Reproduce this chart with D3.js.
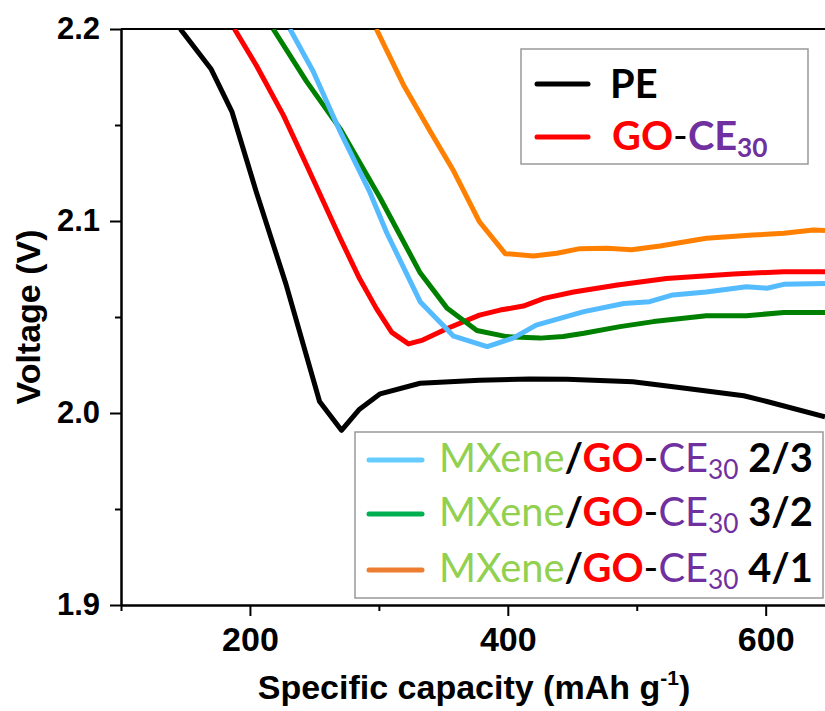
<!DOCTYPE html>
<html>
<head>
<meta charset="utf-8">
<script src="https://cdn.jsdelivr.net/npm/d3@7"></script>
<style>
  body { margin: 0; background: #fff; }
  svg { display: block; }
  .axis text { font-family: "Liberation Sans", Arial, sans-serif; font-weight: bold; fill: #000; }
  .axis path, .axis line { stroke: #000; stroke-width: 2; }
</style>
</head>
<body>
<svg width="825" height="711"></svg>
<script>
/* ---------------- data ---------------- */
// [capacity mAh/g, voltage V]
var pe = [[146,2.200],[170,2.179],[186,2.157],[205,2.115],[228,2.067],[254,2.006],[271,1.991],
  [285,2.002],[301,2.010],[332,2.0155],[378,2.017],[417,2.0177],[446,2.0176],[497,2.0163],
  [536,2.013],[583,2.009],[601,2.006],[646,1.998]];
var goCE = [[188,2.200],[205,2.181],[226,2.155],[244,2.129],[270,2.091],[285,2.070],[298,2.0545],
  [310,2.042],[323,2.036],[334,2.038],[353,2.044],[378,2.051],[394,2.0536],[412,2.0557],
  [428,2.0597],[451,2.063],[485,2.0667],[523,2.070],[575,2.0724],[614,2.0736],[646,2.0736]];
var mx23 = [[231,2.200],[249,2.178],[270,2.1465],[293,2.115],[306,2.094],[332,2.058],[358,2.040],
  [384,2.0346],[404,2.039],[422,2.0458],[459,2.0528],[490,2.057],[510,2.058],[528,2.0615],
  [554,2.063],[585,2.0658],[601,2.065],[614,2.067],[646,2.0675]];
var mx32 = [[218,2.200],[244,2.1726],[270,2.148],[301,2.112],[332,2.073],[353,2.0545],[376,2.043],
  [399,2.0398],[425,2.039],[443,2.0398],[459,2.0415],[487,2.045],[513,2.0476],[554,2.0507],
  [585,2.0507],[614,2.0523],[646,2.0523]];
var mx41 = [[298,2.200],[319,2.171],[340,2.1465],[358,2.126],[378,2.0996],[398,2.083],[420,2.0818],
  [438,2.0832],[456,2.0856],[477,2.0858],[496,2.085],[518,2.087],[554,2.091],[590,2.0927],
  [614,2.0936],[637,2.0953],[646,2.095]];

var xTicks = [200, 400, 600];
var xMinor = [100, 300, 500];
var yTicks = [1.9, 2.0, 2.1, 2.2];
var yMinor = [1.95, 2.05, 2.15];
var ratios = ['2/3', '3/2', '4/1'];

/* ---------------- setup ---------------- */
var svg = d3.select('svg');
var plot = { left: 121, right: 825, top: 29, bottom: 605 };

var xScale = d3.scaleLinear().domain([100, 646]).range([plot.left, plot.right]);
var yScale = d3.scaleLinear().domain([1.9, 2.2]).range([plot.bottom, plot.top]);

svg.append('clipPath').attr('id', 'clip')
  .append('rect')
  .attr('x', plot.left).attr('y', plot.top)
  .attr('width', plot.right - plot.left).attr('height', plot.bottom - plot.top);

// minor ticks first (no labels)
svg.append('g').attr('class', 'axis')
  .attr('transform', 'translate(0,' + plot.bottom + ')')
  .call(d3.axisBottom(xScale).tickValues(xMinor).tickSize(6).tickSizeOuter(0).tickFormat(''));
svg.append('g').attr('class', 'axis')
  .attr('transform', 'translate(' + plot.left + ',0)')
  .call(d3.axisLeft(yScale).tickValues(yMinor).tickSize(6).tickSizeOuter(0).tickFormat(''));

// major ticks
var gx = svg.append('g').attr('class', 'axis')
  .attr('transform', 'translate(0,' + plot.bottom + ')')
  .call(d3.axisBottom(xScale).tickValues(xTicks).tickSize(11).tickPadding(11).tickSizeOuter(0));
gx.selectAll('text').style('font-size', '34px');

var gy = svg.append('g').attr('class', 'axis')
  .attr('transform', 'translate(' + plot.left + ',0)')
  .call(d3.axisLeft(yScale).tickValues(yTicks).tickSize(11).tickPadding(10).tickSizeOuter(0)
    .tickFormat(d3.format('.1f')));
gy.selectAll('text').style('font-size', '31px');

// top frame line
svg.append('line')
  .attr('x1', plot.left).attr('x2', plot.right)
  .attr('y1', plot.top).attr('y2', plot.top)
  .attr('stroke', '#000').attr('stroke-width', 2);

// axis titles
svg.append('text')
  .attr('transform', 'translate(40,317) rotate(-90)')
  .attr('text-anchor', 'middle')
  .style('font-family', '"Liberation Sans", Arial, sans-serif')
  .style('font-weight', 'bold').style('font-size', '34px')
  .text('Voltage (V)');

var xt = svg.append('text')
  .attr('x', 474).attr('y', 699)
  .attr('text-anchor', 'middle')
  .style('font-family', '"Liberation Sans", Arial, sans-serif')
  .style('font-weight', 'bold').style('font-size', '34px');
xt.append('tspan').text('Specific capacity (mAh g');
xt.append('tspan').attr('dy', -14).style('font-size', '21px').text('-1');
xt.append('tspan').attr('dy', 14).text(')');

/* ---------------- curves ---------------- */
var line = d3.line()
  .x(function (d) { return xScale(d[0]); })
  .y(function (d) { return yScale(d[1]); });

var series = [
  { data: pe, color: '#000000' },
  { data: goCE, color: '#ff0000' },
  { data: mx41, color: '#ff8000' },
  { data: mx32, color: '#008000' },
  { data: mx23, color: '#55bbff' }
];

svg.append('g').attr('clip-path', 'url(#clip)')
  .selectAll('path')
  .data(series)
  .enter().append('path')
  .attr('d', function (d) { return line(d.data); })
  .attr('fill', 'none')
  .attr('stroke', function (d) { return d.color; })
  .attr('stroke-width', 5)
  .attr('stroke-linejoin', 'round');

/* ---------------- legends ---------------- */
var legFont = 'Lato, "Open Sans", sans-serif';

function addLabel(g, x, y, parts, size) {
  var t = g.append('text').attr('x', x).attr('y', y)
    .style('font-family', legFont).style('font-size', size + 'px');
  parts.forEach(function (p) {
    var s = t.append('tspan').text(p.t).style('fill', p.c)
      .style('font-weight', p.b ? 'bold' : 'normal');
    if (p.sub) {
      s.attr('dy', size * 0.17).style('font-size', (size * 0.66) + 'px');
    } else if (p.after) {
      s.attr('dy', -size * 0.17);
    }
  });
  return t;
}

function goParts(bold) {
  return [
    { t: 'GO', c: '#ff0000', b: true },
    { t: '-', c: '#000000', b: false },
    { t: 'CE', c: '#7030a0', b: bold },
    { t: '30', c: '#7030a0', b: bold, sub: true }
  ];
}

function mxParts(r) {
  return [{ t: 'MXene', c: '#92d050', b: false }, { t: '/', c: '#000000', b: true }]
    .concat(goParts(false))
    .concat([{ t: ' ' + r, c: '#000000', b: true, after: true }]);
}

// upper legend
var leg1 = svg.append('g');
leg1.append('rect')
  .attr('x', 521).attr('y', 49).attr('width', 287).attr('height', 115)
  .attr('fill', '#fff').attr('stroke', '#999').attr('stroke-width', 1.5);
[[84, '#000000'], [137, '#ff0000']].forEach(function (r) {
  leg1.append('line').attr('x1', 537).attr('x2', 588).attr('y1', r[0]).attr('y2', r[0])
    .attr('stroke', r[1]).attr('stroke-width', 5).attr('stroke-linecap', 'round');
});

// lower legend
var leg2 = svg.append('g');
leg2.append('rect')
  .attr('x', 355).attr('y', 432).attr('width', 468).attr('height', 166)
  .attr('fill', '#fff').attr('stroke', '#999').attr('stroke-width', 1.5);
var legColors = ['#66ccff', '#00b050', '#ed7d31'];
var rowY = [460, 514, 570];

// fit the font width to the picture
var probe = addLabel(leg2, 439, 0, mxParts(ratios[0]), 40);
var fitted = 40 * 374 / probe.node().getComputedTextLength();
probe.remove();

ratios.forEach(function (r, i) {
  leg2.append('line').attr('x1', 369).attr('x2', 422).attr('y1', rowY[i]).attr('y2', rowY[i])
    .attr('stroke', legColors[i]).attr('stroke-width', 5).attr('stroke-linecap', 'round');
  addLabel(leg2, 439, rowY[i] + 12, mxParts(r), fitted);
});

addLabel(leg1, 610, 98, [{ t: 'PE', c: '#000000', b: true }], fitted);
addLabel(leg1, 612, 150, goParts(true), fitted);
</script>
</body>
</html>
